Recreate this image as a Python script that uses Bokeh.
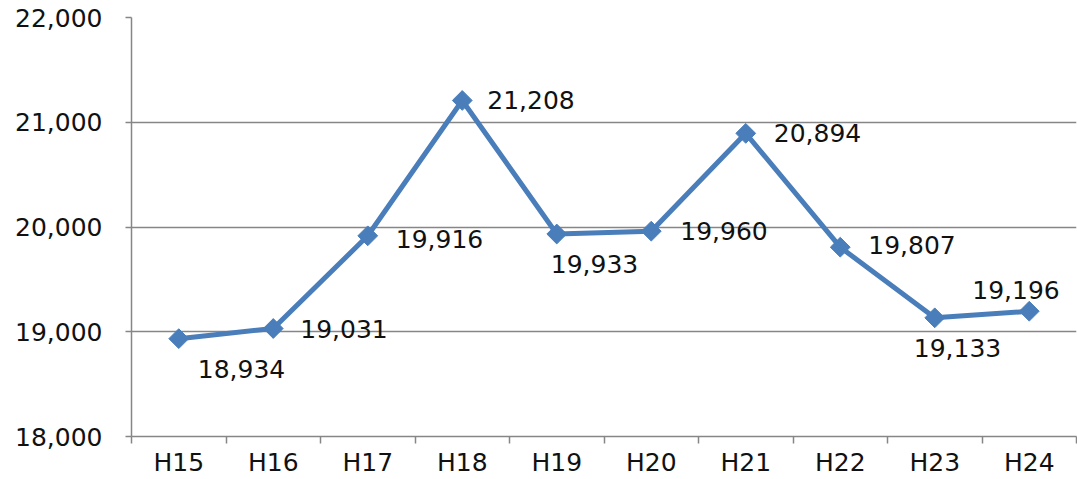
import math
from bokeh.plotting import figure
from bokeh.models import FixedTicker, NumeralTickFormatter, Range1d, ColumnDataSource
from bokeh.core.properties import value
from bokeh.embed import file_html
from bokeh.resources import INLINE

# data
categories = ["H15", "H16", "H17", "H18", "H19", "H20", "H21", "H22", "H23", "H24"]
values = [18934, 19031, 19916, 21208, 19933, 19960, 20894, 19807, 19133, 19196]
value_labels = ["18,934", "19,031", "19,916", "21,208", "19,933",
                "19,960", "20,894", "19,807", "19,133", "19,196"]
y_ticks = [18000, 19000, 20000, 21000, 22000]

# label placement (screen pixel offsets from each point; +dy = down)
label_dx = [19, 27, 28, 25, -6, 29, 28, 28, -21, -57]
label_dy = [30, 0, 3, 0, 30, 0, 0, -2, 30, -21]

FONT = "DejaVu Sans"
GRAY = "#868686"
BLUE = "#4A7EBB"
FS = "25px"

xs = [i + 0.5 for i in range(len(categories))]

src = ColumnDataSource(dict(x=xs, y=values, lab=value_labels,
                            dx=label_dx, dy=label_dy))

p = figure(width=1077, height=479, output_backend="svg", toolbar_location=None,
           x_range=Range1d(0, len(categories)), y_range=Range1d(18000, 22000),
           min_border_left=131, min_border_right=1, min_border_top=17,
           min_border_bottom=43)
p.outline_line_color = None

p.xgrid.visible = False
p.ygrid.grid_line_color = GRAY
p.ygrid.grid_line_width = 1.5
p.ygrid.ticker = FixedTicker(ticks=y_ticks)

p.yaxis.ticker = FixedTicker(ticks=y_ticks)
p.yaxis.formatter = NumeralTickFormatter(format="0,0")
p.yaxis.axis_line_color = GRAY
p.yaxis.axis_line_width = 1.5
p.yaxis.major_tick_line_color = GRAY
p.yaxis.major_tick_line_width = 1.5
p.yaxis.major_tick_out = 6
p.yaxis.major_tick_in = 0
p.yaxis.minor_tick_line_color = None
p.yaxis.major_label_standoff = 23
p.yaxis.major_label_text_font = FONT
p.yaxis.major_label_text_font_size = FS
p.yaxis.major_label_text_color = "#111111"

p.xaxis.ticker = FixedTicker(ticks=xs, minor_ticks=list(range(len(categories) + 1)))
p.xaxis.major_label_overrides = {x: c for x, c in zip(xs, categories)}
p.xaxis.axis_line_color = GRAY
p.xaxis.axis_line_width = 1.5
p.xaxis.major_tick_line_color = None
p.xaxis.major_tick_out = 0
p.xaxis.major_tick_in = 0
p.xaxis.minor_tick_line_color = GRAY
p.xaxis.minor_tick_line_width = 1.5
p.xaxis.minor_tick_out = 7
p.xaxis.minor_tick_in = 0
p.xaxis.major_label_standoff = 4
p.xaxis.major_label_text_font = FONT
p.xaxis.major_label_text_font_size = FS
p.xaxis.major_label_text_color = "#111111"

p.line("x", "y", source=src, line_color=BLUE, line_width=5)
p.scatter("x", "y", source=src, marker="square", size=14, angle=math.pi / 4,
          fill_color=BLUE, line_color=BLUE)
p.text("x", "y", text="lab", source=src, x_offset="dx", y_offset="dy",
       text_font=value(FONT), text_font_size=FS, text_color="#111111",
       text_align="left", text_baseline="middle")

open("out.html", "w").write(file_html(p, INLINE))
